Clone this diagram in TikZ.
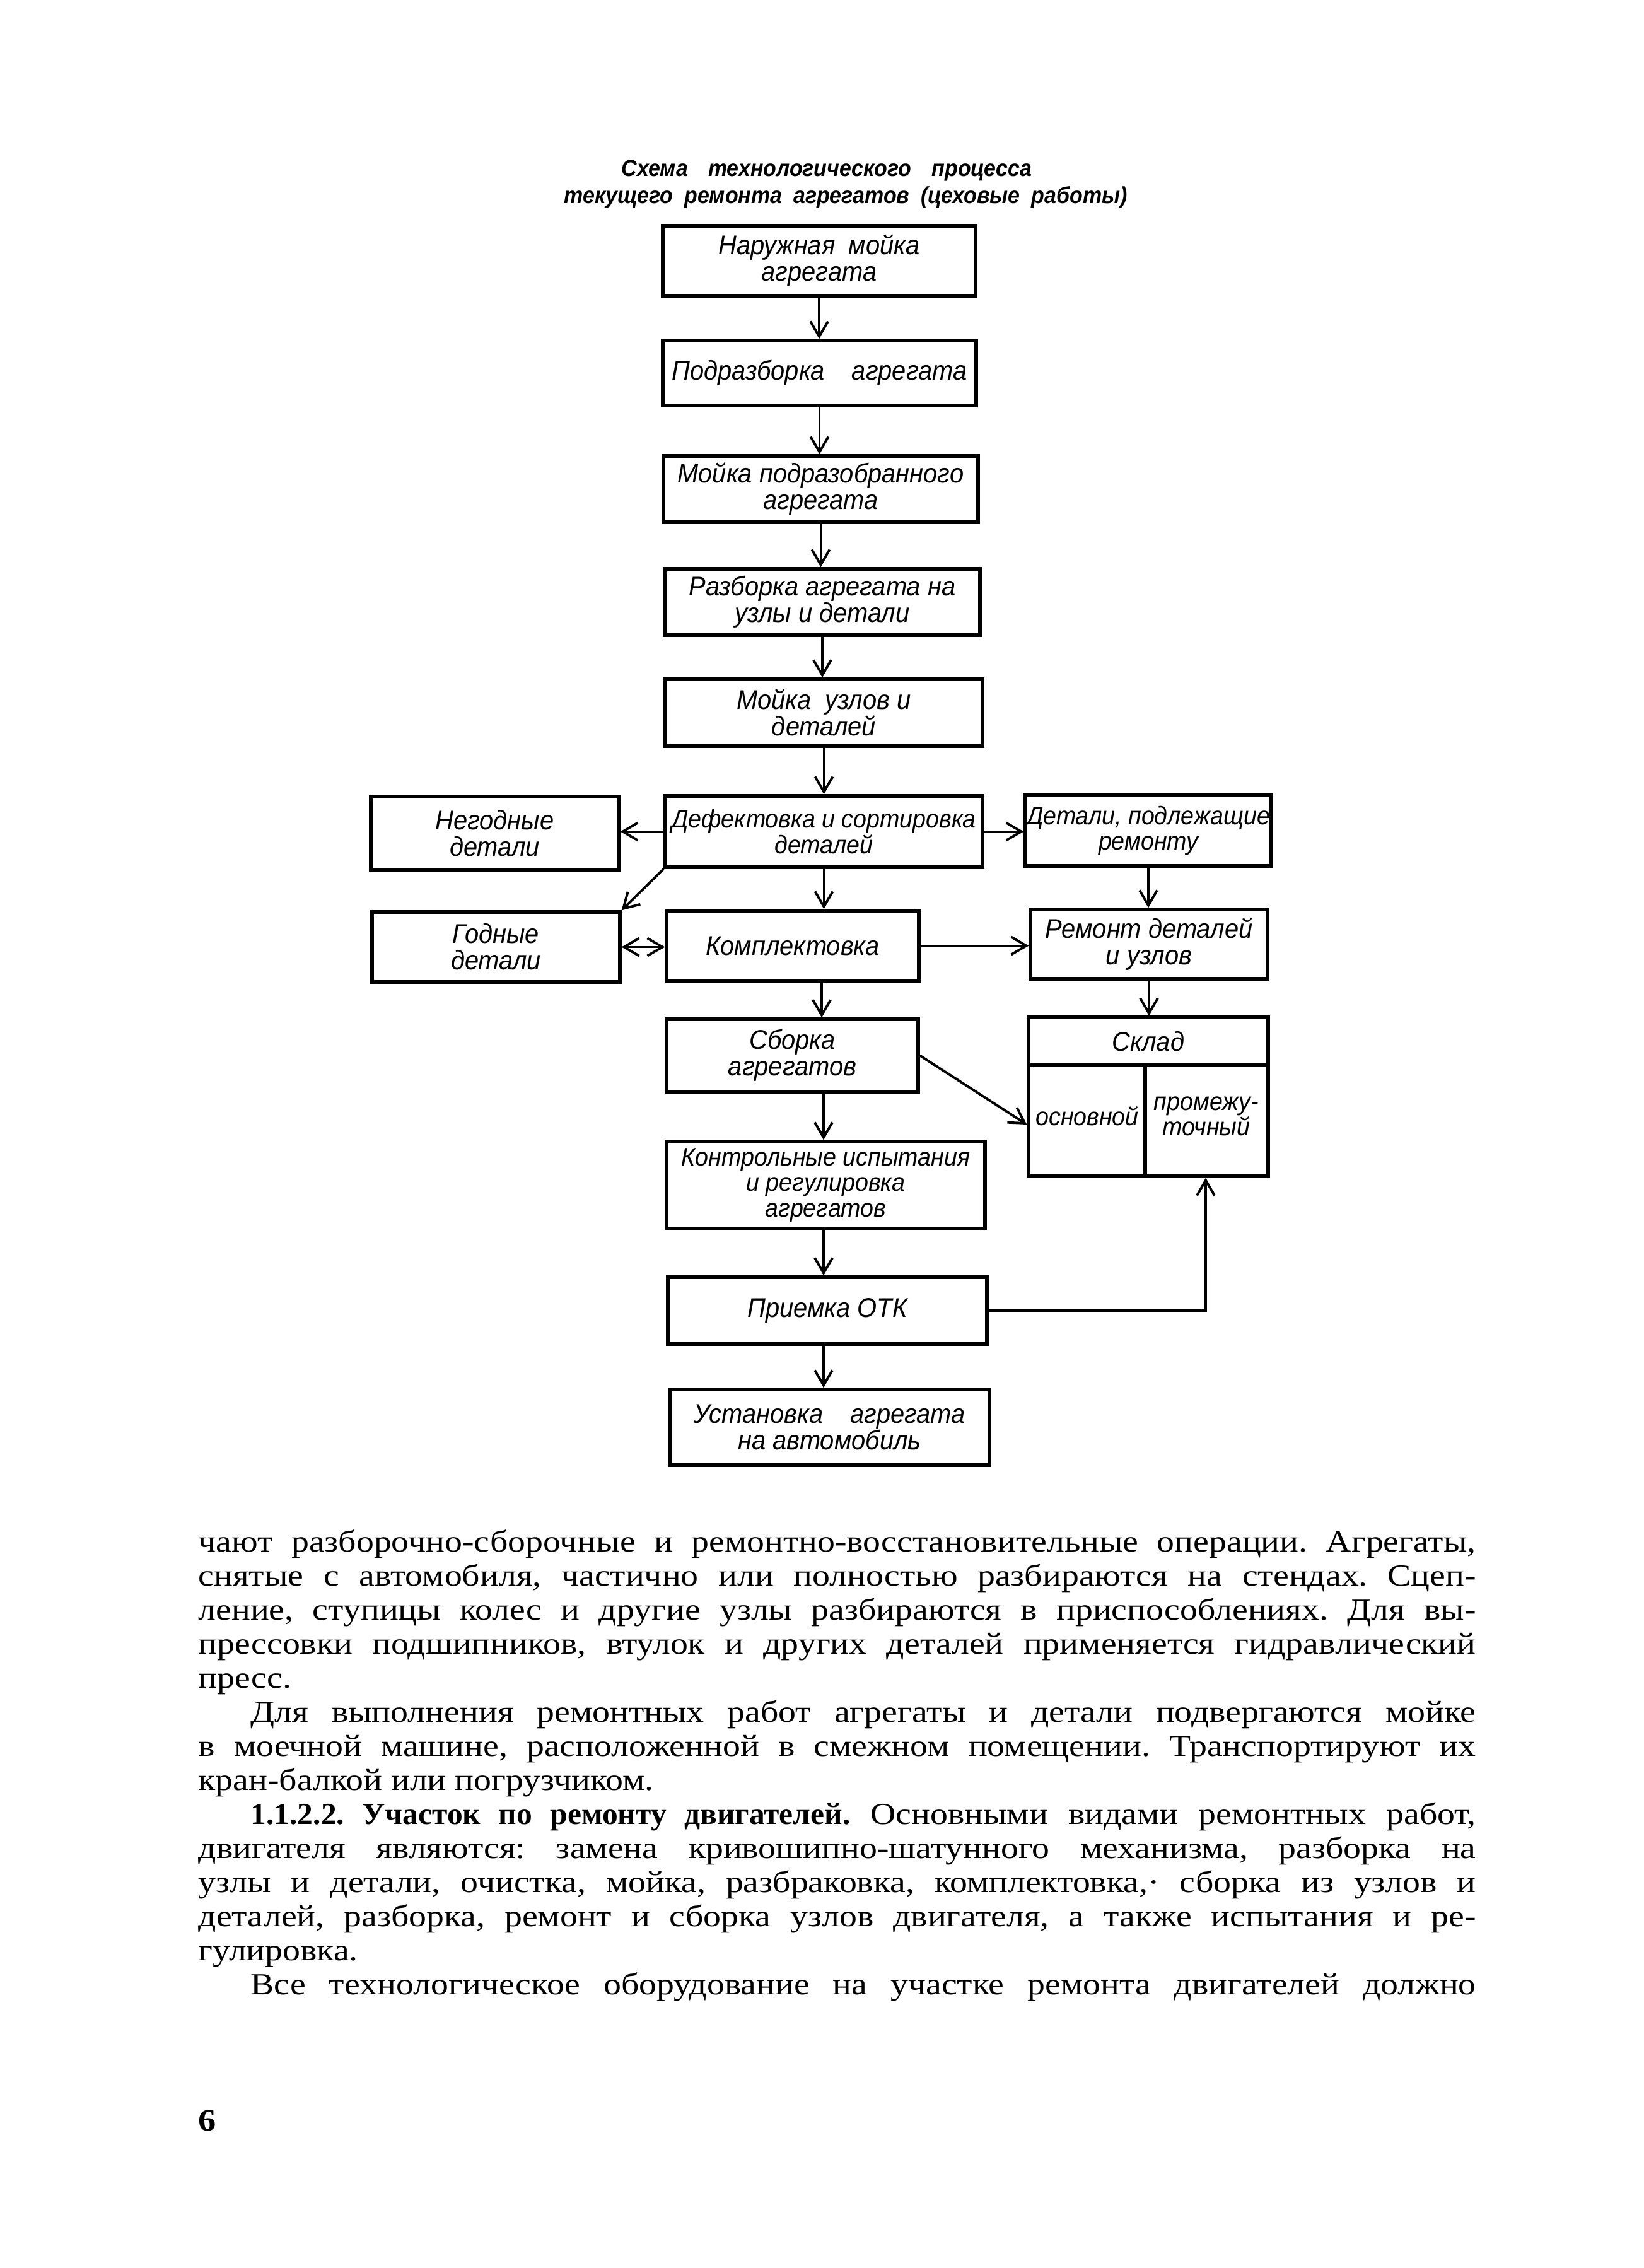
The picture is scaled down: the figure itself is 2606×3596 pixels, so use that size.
\documentclass[tikz,border=0pt]{standalone}
\usepackage{fontspec}
\setmainfont{Liberation Serif}
\newfontfamily\bodyf[FakeStretch=1.15]{Liberation Serif}
\newfontfamily\bodyn[FakeStretch=1.02]{Liberation Serif}
\newfontfamily\dfont[FakeStretch=0.93]{Liberation Sans}
\newfontfamily\tfont[FakeStretch=0.92]{Liberation Sans}
\usetikzlibrary{arrows.meta}
\newcommand\dlab{\dfont\itshape\fontsize{12.2}{12}\selectfont}
\newcommand\dlabs{\dfont\itshape\fontsize{11.5}{11.5}\selectfont}
\newcommand\btext{\bodyf\frenchspacing\fontsize{13.8}{16}\selectfont}
\newcommand\jl[1]{\hbox to 202.6mm{#1}}
\newcommand\hd[1]{{\bodyn\bfseries #1}}
\tikzset{
 box/.style={draw, line width=1.5pt, inner sep=0.6mm, align=center, font=\dlab},
 lab/.style={inner sep=0, align=center, font=\dlab},
 arr/.style={line width=1.1pt, -{Straight Barb[length=2.4mm,width=2.8mm]}},
 arrb/.style={line width=1.1pt, {Straight Barb[length=2.4mm,width=2.8mm]}-{Straight Barb[length=2.4mm,width=2.8mm]}},
 bl/.style={anchor=base west, inner sep=0, font=\btext},
 ttl/.style={inner sep=0, font={\tfont\bfseries\itshape\fontsize{10.5}{12}\selectfont}},
}
\begin{document}
\begin{tikzpicture}[x=0.1mm,y=-0.1mm]
\fill[white] (0,0) rectangle (2606,3596);
\useasboundingbox (0,0) rectangle (2606,3596);
% title
\node[ttl] (t1) at (1311,270) {\hbox to 65.1mm{Схема технологического процесса}};
\node[ttl] (t2) at (1341,313) {\hbox to 89.3mm{текущего ремонта агрегатов (цеховые работы)}};
% boxes
\node[box, minimum width=49.6mm, minimum height=11.1mm] (b1) at (1299,413.5) {Наружная\enspace мойка\\агрегата};
\node[box, minimum width=49.7mm, minimum height=10.3mm] (b2) at (1299.5,591.5) {Подразборка\quad агрегата};
\node[box, minimum width=49.9mm, minimum height=10.5mm] (b3) at (1301.5,775.5) {Мойка подразобранного\\агрегата};
\node[box, minimum width=50.0mm, minimum height=10.5mm] (b4) at (1304,954.5) {Разборка агрегата на\\узлы и детали};
\node[box, minimum width=50.3mm, minimum height=10.6mm] (b5) at (1306.5,1130) {Мойка\enspace узлов и\\деталей};
\node[box, font=\dlabs, minimum width=50.3mm, minimum height=11.3mm] (b6) at (1306.5,1318.5) {Дефектовка и сортировка\\деталей};
\node[box, minimum width=39.3mm, minimum height=11.6mm] (neg) at (784.5,1321) {Негодные\\детали};
\node[box, font=\dlabs, minimum width=37.8mm, minimum height=11.2mm, inner sep=0.2mm] (dpr) at (1821,1317) {Детали, подлежащие\\ремонту};
\node[box, minimum width=39.3mm, minimum height=11.1mm] (god) at (786.5,1501.5) {Годные\\детали};
\node[box, minimum width=40.0mm, minimum height=11.1mm] (kom) at (1257,1499.5) {Комплектовка};
\node[box, minimum width=37.6mm, minimum height=11.0mm] (rem) at (1822,1497) {Ремонт деталей\\и узлов};
\node[box, minimum width=39.9mm, minimum height=11.5mm] (sbo) at (1256.5,1673.5) {Сборка\\агрегатов};
\node[box, minimum width=38.0mm, minimum height=25.2mm] (skl) at (1821,1739) {};
\node[box, font=\dlabs, minimum width=50.5mm, minimum height=13.8mm] (con) at (1309.5,1879) {Контрольные испытания\\и регулировка\\агрегатов};
\node[box, minimum width=50.6mm, minimum height=10.6mm] (pri) at (1312,2078) {Приемка ОТК};
\node[box, minimum width=50.7mm, minimum height=12.0mm] (ust) at (1315.5,2263) {Установка\quad агрегата\\на автомобиль};
% sklad inner
\coordinate (hd) at (0,1689);
\coordinate (vd) at (1816,0);
\draw[line width=1.5pt] (skl.west |- hd) -- (skl.east |- hd);
\draw[line width=1.5pt] (vd |- hd) -- (vd |- skl.south);
\node[lab] (sklh) at (1821,1651) {Склад};
\node[lab, font=\dlabs] (osn) at (1724,1770) {основной};
\node[lab, font=\dlabs] (prom) at (1913,1770) {промежу-\\точный};
% connectors
\coordinate (cx) at (1303,0);
\coordinate (cx2) at (1306,0);
\draw[arr] (b1.south) -- (b1.south |- b2.north);
\draw[arr] (b2.south) -- (b2.south |- b3.north);
\draw[arr] (b3.south) -- (b3.south |- b4.north);
\draw[arr] (b4.south) -- (b4.south |- b5.north);
\draw[arr] (b5.south) -- (b5.south |- b6.north);
\draw[arr] (b6.west) -- (b6.west -| neg.east);
\draw[arr] (b6.east) -- (b6.east -| dpr.west);
\draw[arr] (b6.south west) -- (god.north east);
\draw[arr] (b6.south) -- (b6.south |- kom.north);
\draw[arrb] (god.east) -- (god.east -| kom.west);
\draw[arr] (kom.east) -- (kom.east -| rem.west);
\draw[arr] (dpr.south) -- (dpr.south |- rem.north);
\draw[arr] (rem.south) -- (rem.south |- skl.north);
\draw[arr] (kom.south -| cx) -- (sbo.north -| cx);
\draw[arr] (sbo.south -| cx2) -- (con.north -| cx2);
\draw[arr] (con.south -| cx2) -- (pri.north -| cx2);
\draw[arr] (pri.south -| cx2) -- (ust.north -| cx2);
\draw[arr] (sbo.east) -- ([yshift=-4.4mm]skl.west);
\draw[arr] (pri.east) -| ([xshift=9.1mm]skl.south);
% body text
\node[bl] (l1) at (314,2460) {\jl{чают разборочно-сборочные и ремонтно-восстановительные операции. Агрегаты,}};
\node[bl] (l2) at (314,2514) {\jl{снятые с автомобиля, частично или полностью разбираются на стендах. Сцеп-}};
\node[bl] (l3) at (314,2568) {\jl{ление, ступицы колес и другие узлы разбираются в приспособлениях. Для вы-}};
\node[bl] (l4) at (314,2622) {\jl{прессовки подшипников, втулок и других деталей применяется гидравлический}};
\node[bl] (l5) at (314,2676) {пресс.};
\node[bl] (l6) at (314,2730) {\jl{\hspace*{8.3mm}Для выполнения ремонтных работ агрегаты и детали подвергаются мойке}};
\node[bl] (l7) at (314,2784) {\jl{в моечной машине, расположенной в смежном помещении. Транспортируют их}};
\node[bl] (l8) at (314,2838) {кран-балкой или погрузчиком.};
\node[bl] (l9) at (314,2892) {\jl{\hspace*{8.3mm}\hd{1.1.2.2. Участок по ремонту двигателей.} Основными видами ремонтных работ,}};
\node[bl] (l10) at (314,2946) {\jl{двигателя являются: замена кривошипно-шатунного механизма, разборка на}};
\node[bl] (l11) at (314,3000) {\jl{узлы и детали, очистка, мойка, разбраковка, комплектовка,· сборка из узлов и}};
\node[bl] (l12) at (314,3054) {\jl{деталей, разборка, ремонт и сборка узлов двигателя, а также испытания и ре-}};
\node[bl] (l13) at (314,3108) {гулировка.};
\node[bl] (l14) at (314,3162) {\jl{\hspace*{8.3mm}Все технологическое оборудование на участке ремонта двигателей должно}};
\node[bl, font={\bodyf\bfseries\fontsize{14}{16}\selectfont}] (pg) at (314,3378) {6};
\end{tikzpicture}
\end{document}
